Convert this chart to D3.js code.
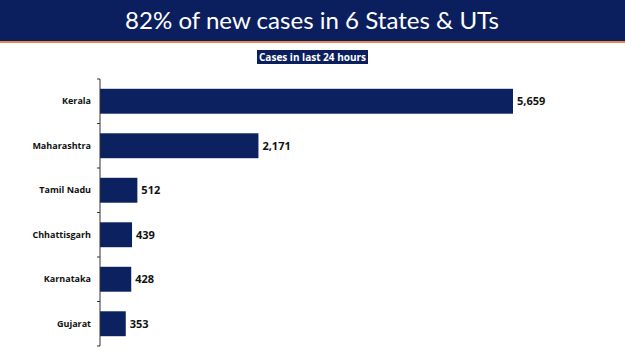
<!DOCTYPE html>
<html>
<head>
<meta charset="utf-8">
<script src="https://cdn.jsdelivr.net/npm/d3@7"></script>
<style>
  body { margin: 0; background: #fff; }
  svg { display: block; }
</style>
</head>
<body>
<svg id="chart" width="625" height="351"></svg>
<script>
/**
 * Data.
 */
const states = ['Kerala', 'Maharashtra', 'Tamil Nadu', 'Chhattisgarh', 'Karnataka', 'Gujarat'];
const cases = [5659, 2171, 512, 439, 428, 353];
const title = '82% of new cases in 6 States & UTs';
const subtitle = 'Cases in last 24 hours';

/**
 * Visual configs.
 */
const navy = '#0b1f5e',
    barColor = '#0c2160';
const margin = { top: 79, left: 100 };
const plotHeight = 267;

const svg = d3.select('#chart');

// Header band
svg.append('rect')
    .attr('x', 0).attr('y', 0)
    .attr('width', 625).attr('height', 41)
    .attr('fill', navy);
svg.append('rect')
    .attr('x', 0).attr('y', 41)
    .attr('width', 625).attr('height', 2)
    .attr('fill', '#e3884a');
svg.append('text')
    .attr('x', 312).attr('y', 29)
    .attr('text-anchor', 'middle')
    .attr('fill', '#fff')
    .attr('font-family', 'Lato, sans-serif')
    .attr('font-size', 24)
    .attr('textLength', 374)
    .attr('lengthAdjust', 'spacingAndGlyphs')
    .text(title);

// Subtitle box
svg.append('rect')
    .attr('x', 257).attr('y', 50)
    .attr('width', 111).attr('height', 14)
    .attr('fill', navy);
svg.append('text')
    .attr('x', 312.5).attr('y', 61)
    .attr('text-anchor', 'middle')
    .attr('fill', '#fff')
    .attr('font-family', '"Open Sans", sans-serif')
    .attr('font-weight', 'bold')
    .attr('font-size', 10.5)
    .attr('textLength', 107)
    .attr('lengthAdjust', 'spacingAndGlyphs')
    .text(subtitle);

/**
 * Scales.
 */
const yScale = d3.scaleBand()
    .domain(states)
    .range([0, plotHeight])
    .paddingInner(0.44)
    .paddingOuter(0.22);
const xScale = d3.scaleLinear()
    .domain([0, 5659])
    .range([0, 413]);

const g = svg.append('g')
    .attr('transform', `translate(${margin.left},${margin.top})`);

const data = states.map((s, i) => ({ state: s, value: cases[i] }));

g.selectAll('rect.bar')
    .data(data)
    .join('rect')
        .attr('class', 'bar')
        .attr('x', 0)
        .attr('y', d => yScale(d.state))
        .attr('width', d => xScale(d.value))
        .attr('height', yScale.bandwidth())
        .attr('fill', barColor);

g.selectAll('text.value')
    .data(data)
    .join('text')
        .attr('class', 'value')
        .attr('x', d => xScale(d.value) + 4)
        .attr('y', d => yScale(d.state) + yScale.bandwidth() / 2)
        .attr('dy', '0.35em')
        .attr('font-family', '"Open Sans", sans-serif')
        .attr('font-weight', 'bold')
        .attr('font-size', 11)
        .attr('fill', '#111')
        .text(d => d3.format(',')(d.value));

// Axis with band-edge ticks
const yAxis = d3.axisLeft(yScale).tickSize(0).tickPadding(9);
const axisG = g.append('g').call(yAxis);
axisG.select('.domain').attr('stroke', '#333').attr('d', `M0,0V${plotHeight}`);
axisG.selectAll('.tick text')
    .attr('font-family', '"Open Sans", sans-serif')
    .attr('font-weight', 'bold')
    .attr('font-size', 9)
    .attr('fill', '#111');

const edges = states.map(s => yScale(s) - yScale.step() * yScale.paddingInner() / 2);
edges[0] = 0;
edges.push(plotHeight);
g.selectAll('line.edge')
    .data(edges)
    .join('line')
        .attr('class', 'edge')
        .attr('x1', -3).attr('x2', 0)
        .attr('y1', d => d).attr('y2', d => d)
        .attr('stroke', '#333');
</script>
</body>
</html>
